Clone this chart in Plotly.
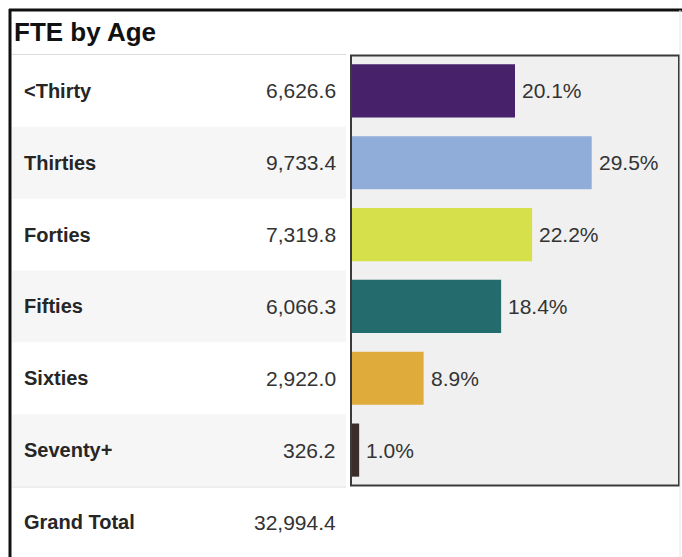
import plotly.graph_objects as go

# ---- data ----
age_groups = ["<Thirty", "Thirties", "Forties", "Fifties", "Sixties", "Seventy+"]
fte_values = [6626.6, 9733.4, 7319.8, 6066.3, 2922.0, 326.2]
pct_values = [20.1, 29.5, 22.2, 18.4, 8.9, 1.0]
grand_total = 32994.4
bar_colors = ["#47216a", "#8fadd8", "#d5e04a", "#236b6c", "#dfab3b", "#3b2e2a"]
title_text = "FTE by Age"

W, H = 682, 557
FONT = "Liberation Sans, Arial, sans-serif"


def px(x):
    return x / W


def py(y):
    return 1 - y / H


fig = go.Figure()
fig.add_trace(go.Bar(
    y=age_groups,
    x=pct_values,
    orientation="h",
    marker=dict(color=bar_colors, line=dict(width=0)),
    hoverinfo="skip",
    showlegend=False,
))

shapes = []
annotations = []

# alternating stripes in the left table
for i in range(len(age_groups)):
    if i % 2 == 1:
        shapes.append(dict(type="rect", xref="paper", yref="y",
                           x0=px(12), x1=px(346), y0=i - 0.5, y1=i + 0.5,
                           fillcolor="#f6f6f6", line=dict(width=0), layer="below"))

# separators
shapes.append(dict(type="line", xref="paper", yref="paper", x0=px(12), x1=px(346),
                   y0=py(54.5), y1=py(54.5), line=dict(color="#dcdcdc", width=1)))
shapes.append(dict(type="line", xref="paper", yref="paper", x0=px(12), x1=px(346),
                   y0=py(487), y1=py(487), line=dict(color="#dcdcdc", width=1)))

# chart panel border
shapes.append(dict(type="rect", xref="paper", yref="paper",
                   x0=px(351), x1=px(679), y0=py(485.5), y1=py(55.5),
                   line=dict(color="#3a3a3a", width=2), fillcolor="rgba(0,0,0,0)"))

# outer frame (top and left)
shapes.append(dict(type="line", xref="paper", yref="paper", x0=px(9), x1=1,
                   y0=py(10), y1=py(10), line=dict(color="#111111", width=3)))
shapes.append(dict(type="line", xref="paper", yref="paper", x0=px(10), x1=px(10),
                   y0=py(9), y1=0, line=dict(color="#111111", width=3)))
shapes.append(dict(type="line", xref="paper", yref="paper", x0=px(680), x1=px(680),
                   y0=py(10), y1=0, line=dict(color="#e6e6e6", width=1)))

# title
annotations.append(dict(text="<b>" + title_text + "</b>", xref="paper", yref="paper",
                        x=px(12), y=py(32), xanchor="left", yanchor="middle",
                        showarrow=False, font=dict(size=26, color="#111111", family=FONT)))

# row labels and values
for cat, val, pct in zip(age_groups, fte_values, pct_values):
    annotations.append(dict(text="<b>" + cat + "</b>", xref="paper", yref="y",
                            x=px(22), y=cat, xanchor="left", yanchor="middle",
                            showarrow=False, font=dict(size=20, color="#262626", family=FONT)))
    annotations.append(dict(text=f"{val:,.1f}", xref="paper", yref="y",
                            x=px(338), y=cat, xanchor="right", yanchor="middle",
                            showarrow=False, font=dict(size=21, color="#333333", family=FONT)))
    annotations.append(dict(text=f"{pct:.1f}%", xref="x", yref="y",
                            x=pct, y=cat, xanchor="left", yanchor="middle", xshift=5,
                            showarrow=False, font=dict(size=21, color="#333333", family=FONT)))

annotations.append(dict(text="<b>Grand Total</b>", xref="paper", yref="paper",
                        x=px(22), y=py(522), xanchor="left", yanchor="middle",
                        showarrow=False, font=dict(size=20, color="#262626", family=FONT)))
annotations.append(dict(text=f"{grand_total:,.1f}", xref="paper", yref="paper",
                        x=px(338), y=py(522), xanchor="right", yanchor="middle",
                        showarrow=False, font=dict(size=21, color="#333333", family=FONT)))

fig.update_layout(
    width=W, height=H, autosize=False,
    margin=dict(l=0, r=0, t=0, b=0),
    paper_bgcolor="white",
    plot_bgcolor="#f0f0f0",
    bargap=0.26,
    xaxis=dict(domain=[px(351), px(679)], range=[0, 40.2], visible=False,
               showgrid=False, zeroline=False, fixedrange=True),
    yaxis=dict(domain=[py(486), py(55)], autorange="reversed", visible=False,
               showgrid=False, zeroline=False, fixedrange=True,
               categoryorder="array", categoryarray=age_groups),
    shapes=shapes,
    annotations=annotations,
    font=dict(family=FONT),
)

fig.write_html("out.html", config={"displayModeBar": False},
               post_script="document.body.style.margin='0';")
